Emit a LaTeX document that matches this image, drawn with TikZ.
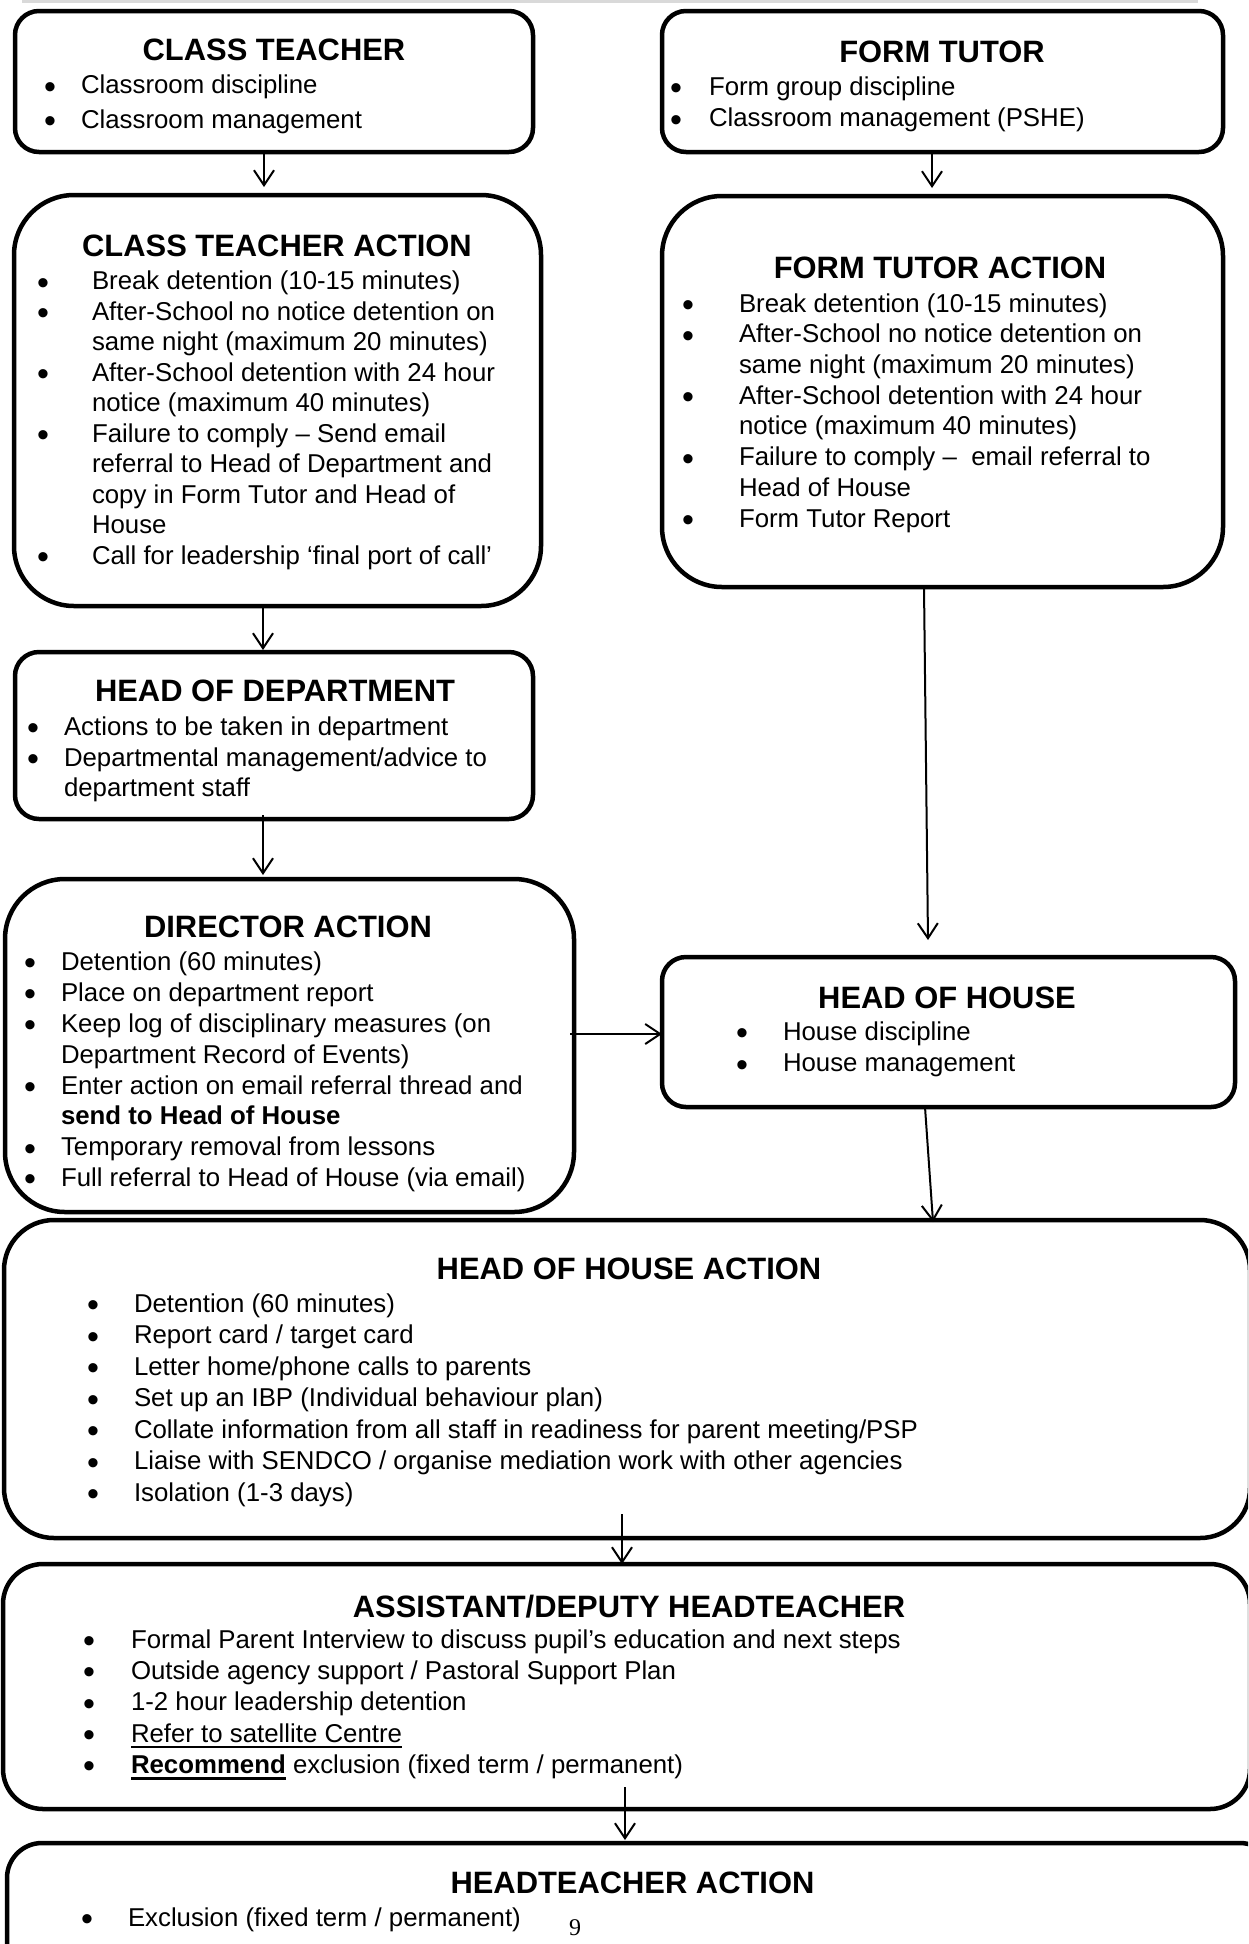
\documentclass[tikz,border=0pt]{standalone}
\usepackage{graphicx}
\usepackage{fontspec}
\setmainfont{Liberation Sans}
\newfontfamily\serifnum{Liberation Serif}
\usetikzlibrary{arrows.meta}
\newcounter{nn}
\newsavebox\ulbox
\newcommand\myul[3]{\sbox\ulbox{#3}\rlap{\rule[-#1]{\wd\ulbox}{#2}}\usebox\ulbox}
\newcommand\bigbul{\raisebox{-4.5pt}{\scalebox{1.32}{\textbullet}}}
\newcommand\bt[3]{\stepcounter{nn}\node[ttl] (n\thenn) at (#1,#2) {#3};}
\newcommand\bi[4]{\stepcounter{nn}\node[bul] (n\thenn) at (#1,#3) {\bigbul};%
  \stepcounter{nn}\node[txt] (n\thenn) at (#2,#3) {#4};}
\newcommand\ci[3]{\stepcounter{nn}\node[txt] (n\thenn) at (#1,#2) {#3};}
\tikzset{
  box/.style={draw=black, line width=4.5pt, rounded corners=#1, inner sep=0pt, outer sep=0pt, anchor=north west},
  ttl/.style={font=\fontsize{30.9}{36}\selectfont\bfseries, inner sep=0pt, outer sep=0pt, anchor=base},
  txt/.style={font=\fontsize{25.8}{30.5}\selectfont, inner sep=0pt, outer sep=0pt, anchor=base west},
  bul/.style={font=\fontsize{25.8}{30.5}\selectfont, inner sep=0pt, outer sep=0pt, anchor=base},
  arr/.style={draw=black, line width=2pt, -{Straight Barb[length=15pt,width=20pt,line width=2pt]}}
}
\begin{document}
\begin{tikzpicture}[x=1pt,y=-1pt]
\clip (0,0) rectangle (1248,1944);
\fill[white] (0,0) rectangle (1248,1944);
\fill[black!15] (22,0) rectangle (1198,3);

% boxes
\node[box=24pt, minimum width=518pt, minimum height=141pt] (ct) at (15,11) {};
\node[box=60pt, minimum width=527pt, minimum height=411pt] (cta) at (14,195) {};
\node[box=24pt, minimum width=561pt, minimum height=141pt] (ft) at (662,11) {};
\node[box=60pt, minimum width=561pt, minimum height=391pt] (fta) at (662,196) {};
\node[box=24pt, minimum width=518pt, minimum height=167pt] (hod) at (15,652) {};
\node[box=60pt, minimum width=569pt, minimum height=333pt] (da) at (5,879) {};
\node[box=24pt, minimum width=573pt, minimum height=150pt] (hoh) at (662,957) {};
\node[box=50pt, minimum width=1246pt, minimum height=318pt] (hoha) at (4,1220) {};
\node[box=40pt, minimum width=1247pt, minimum height=245pt] (adh) at (3,1564) {};
\node[box=35pt, minimum width=1268pt, minimum height=147pt] (ha) at (7,1843) {};

% CLASS TEACHER
\bt{274}{60}{CLASS TEACHER}
\bi{50}{81}{93.5}{Classroom discipline}
\bi{50}{81}{128}{Classroom management}

% CLASS TEACHER ACTION
\bt{277}{256}{CLASS TEACHER ACTION}
\bi{43}{92}{289.5}{Break detention (10-15 minutes)}
\bi{43}{92}{320}{After-School no notice detention on}
\ci{92}{350.5}{same night (maximum 20 minutes)}
\bi{43}{92}{381}{After-School detention with 24 hour}
\ci{92}{411.5}{notice (maximum 40 minutes)}
\bi{43}{92}{442}{Failure to comply – Send email}
\ci{92}{472.5}{referral to Head of Department and}
\ci{92}{503}{copy in Form Tutor and Head of}
\ci{92}{533.5}{House}
\bi{43}{92}{564}{Call for leadership ‘final port of call’}

% FORM TUTOR
\bt{942}{62}{FORM TUTOR}
\bi{676}{709}{95}{Form group discipline}
\bi{676}{709}{126.5}{Classroom management (PSHE)}

% FORM TUTOR ACTION
\bt{940}{278.5}{FORM TUTOR ACTION}
\bi{688}{739}{312}{Break detention (10-15 minutes)}
\bi{688}{739}{342.7}{After-School no notice detention on}
\ci{739}{373.4}{same night (maximum 20 minutes)}
\bi{688}{739}{404}{After-School detention with 24 hour}
\ci{739}{434.8}{notice (maximum 40 minutes)}
\bi{688}{739}{465.5}{Failure to comply – \ email referral to}
\ci{739}{496}{Head of House}
\bi{688}{739}{527}{Form Tutor Report}

% HEAD OF DEPARTMENT
\bt{275}{701.5}{HEAD OF DEPARTMENT}
\bi{33}{64}{735}{Actions to be taken in department}
\bi{33}{64}{766}{Departmental management/advice to}
\ci{64}{796}{department staff}

% DIRECTOR ACTION
\bt{288}{937.5}{DIRECTOR ACTION}
\bi{30}{61}{970}{Detention (60 minutes)}
\bi{30}{61}{1001}{Place on department report}
\bi{30}{61}{1032}{Keep log of disciplinary measures (on}
\ci{61}{1063}{Department Record of Events)}
\bi{30}{61}{1094}{Enter action on email referral thread and}
\ci{61}{1124.5}{\textbf{send to Head of House}}
\bi{30}{61}{1155.5}{Temporary removal from lessons}
\bi{30}{61}{1186}{Full referral to Head of House (via email)}

% HEAD OF HOUSE
\bt{947}{1008}{HEAD OF HOUSE}
\bi{742}{783}{1040}{House discipline}
\bi{742}{783}{1071.5}{House management}

% HEAD OF HOUSE ACTION
\bt{629}{1279}{HEAD OF HOUSE ACTION}
\bi{93}{134}{1312}{Detention (60 minutes)}
\bi{93}{134}{1343.5}{Report card / target card}
\bi{93}{134}{1375}{Letter home/phone calls to parents}
\bi{93}{134}{1406.5}{Set up an IBP (Individual behaviour plan)}
\bi{93}{134}{1438}{Collate information from all staff in readiness for parent meeting/PSP}
\bi{93}{134}{1469.5}{Liaise with SENDCO / organise mediation work with other agencies}
\bi{93}{134}{1501}{Isolation (1-3 days)}

% ASSISTANT/DEPUTY HEADTEACHER
\bt{629}{1617}{ASSISTANT/DEPUTY HEADTEACHER}
\bi{89}{131}{1648}{Formal Parent Interview to discuss pupil’s education and next steps}
\bi{89}{131}{1679.3}{Outside agency support / Pastoral Support Plan}
\bi{89}{131}{1710.6}{1-2 hour leadership detention}
\bi{89}{131}{1742}{\myul{6pt}{2pt}{Refer to satellite Centre}}
\bi{89}{131}{1773}{\myul{6.5pt}{3pt}{\textbf{Recommend}} exclusion (fixed term / permanent)}

% HEADTEACHER ACTION
\bt{632.5}{1893}{HEADTEACHER ACTION}
\bi{87}{128}{1926}{Exclusion (fixed term / permanent)}
\node[font=\serifnum\fontsize{24}{28}\selectfont, inner sep=0pt, anchor=base] (pg) at (575,1935) {9};

% connectors
\draw[arr] ([xshift=-10pt]ct.south) -- ([xshift=-13.5pt,yshift=8pt]cta.north);
\draw[arr] ([xshift=-10.5pt]ft.south) -- ([xshift=-10.5pt,yshift=8pt]fta.north);
\draw[arr] ([xshift=-14.5pt]cta.south) -- ([xshift=-11pt,yshift=2pt]hod.north);
\draw[arr] ([xshift=-11pt,yshift=4pt]hod.south) -- ([xshift=-26.5pt,yshift=4pt]da.north);
\draw[arr] ([xshift=-18.5pt]fta.south) -- ([xshift=-20.5pt,yshift=17pt]hoh.north);
\draw[arr] ([xshift=-4pt,yshift=11.5pt]da.east) -- ([yshift=-2pt]hoh.west);
\draw[arr] ([xshift=-23.5pt]hoh.south) -- ([xshift=306pt,yshift=-2pt]hoha.north);
\draw[arr] ([xshift=-5pt,yshift=24pt]hoha.south) -- ([xshift=-4.5pt]adh.north);
\draw[arr] ([xshift=-1.5pt,yshift=22pt]adh.south) -- ([xshift=-16pt,yshift=3pt]ha.north);
\end{tikzpicture}
\end{document}
